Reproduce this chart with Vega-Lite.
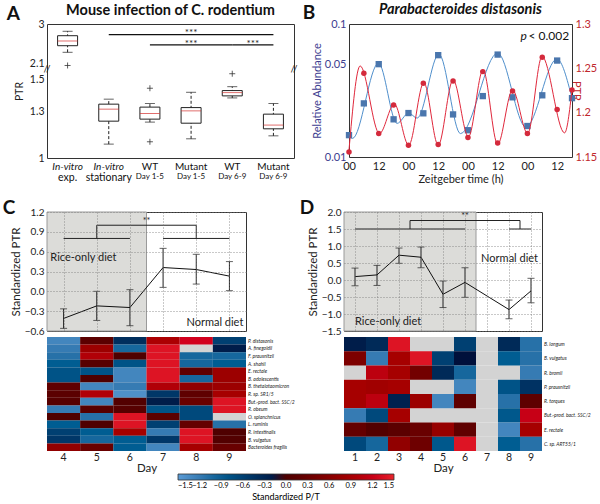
{
"$schema": "https://vega.github.io/schema/vega-lite/v6.json",
"padding": {"left": 2, "top": 1, "right": 2, "bottom": 2},
"background": "white",
"config": {
  "font": "Lato",
  "view": {"stroke": "#333333", "strokeWidth": 1},
  "axis": {"labelFont": "Lato", "titleFont": "Lato", "labelFontSize": 10, "titleFontSize": 10.5, "titleFontWeight": "normal", "labelColor": "#222222", "titleColor": "#222222", "ticks": false, "domain": false, "grid": false, "labelPadding": 3, "titlePadding": 3, "labelOverlap": false, "labelFlush": false},
  "title": {"font": "Lato", "color": "#111111"},
  "legend": {"labelFont": "Lato", "titleFont": "Lato"}
},
"datasets": {
  "boxes": [
    {"group": "In-vitro exp.", "lower": 2.352, "q1": 2.503, "median": 2.611, "q3": 2.732, "upper": 2.833},
    {"group": "In-vitro stationary", "lower": 1.089, "q1": 1.236, "median": 1.313, "q3": 1.345, "upper": 1.377},
    {"group": "WT Day 1-5", "lower": 1.23, "q1": 1.249, "median": 1.285, "q3": 1.326, "upper": 1.349},
    {"group": "Mutant Day 1-5", "lower": 1.123, "q1": 1.223, "median": 1.302, "q3": 1.323, "upper": 1.421},
    {"group": "WT Day 6-9", "lower": 1.385, "q1": 1.398, "median": 1.419, "q3": 1.432, "upper": 1.457},
    {"group": "Mutant Day 6-9", "lower": 1.142, "q1": 1.187, "median": 1.211, "q3": 1.281, "upper": 1.349}
  ],
  "outliers": [
    {"group": "In-vitro exp.", "v": 2.05},
    {"group": "WT Day 1-5", "v": 1.447},
    {"group": "WT Day 1-5", "v": 1.104},
    {"group": "WT Day 6-9", "v": 1.54}
  ],
  "sig": [
    {"from": "In-vitro stationary", "to": "Mutant Day 6-9", "y": 2.755},
    {"from": "WT Day 1-5", "to": "WT Day 6-9", "y": 2.52},
    {"from": "WT Day 6-9", "to": "Mutant Day 6-9", "y": 2.52}
  ],
  "bpts": [
    {"t": 0, "v": 0.0146}, {"t": 6, "v": 0.0253}, {"t": 12, "v": 0.0499}, {"t": 18, "v": 0.0192},
    {"t": 24, "v": 0.0214}, {"t": 30, "v": 0.0213}, {"t": 36, "v": 0.0583}, {"t": 42, "v": 0.0209},
    {"t": 48, "v": 0.0159}, {"t": 54, "v": 0.0287}, {"t": 60, "v": 0.0589}, {"t": 66, "v": 0.0281},
    {"t": 72, "v": 0.0171}, {"t": 78, "v": 0.0291}, {"t": 84, "v": 0.0531}, {"t": 90, "v": 0.0277}
  ],
  "bcurve": [
    {"t": 0, "v": 0.0146}, {"t": 1.4, "v": 0.0138}, {"t": 11.9, "v": 0.0507}, {"t": 19.4, "v": 0.0179},
    {"t": 24.1, "v": 0.0214}, {"t": 27.5, "v": 0.0196}, {"t": 36.3, "v": 0.0593}, {"t": 45, "v": 0.015},
    {"t": 60, "v": 0.0604}, {"t": 71.4, "v": 0.0168}, {"t": 83.9, "v": 0.0545}, {"t": 90, "v": 0.0277}
  ],
  "rpts": [
    {"t": 0, "v": 1.1557}, {"t": 6, "v": 1.2445}, {"t": 12, "v": 1.1765}, {"t": 18, "v": 1.2086},
    {"t": 24, "v": 1.1633}, {"t": 30, "v": 1.2332}, {"t": 36, "v": 1.164}, {"t": 42, "v": 1.2358},
    {"t": 48, "v": 1.172}, {"t": 54, "v": 1.2463}, {"t": 60, "v": 1.1659}, {"t": 66, "v": 1.2244},
    {"t": 72, "v": 1.1765}, {"t": 78, "v": 1.2626}, {"t": 84, "v": 1.2037}, {"t": 90, "v": 1.2256}
  ],
  "rcurve": [
    {"t": 0, "v": 1.158}, {"t": 4.5, "v": 1.2527}, {"t": 12.3, "v": 1.1765}, {"t": 18.3, "v": 1.2097},
    {"t": 24.1, "v": 1.1633}, {"t": 30.2, "v": 1.2338}, {"t": 36, "v": 1.1633}, {"t": 42, "v": 1.2369},
    {"t": 48.2, "v": 1.1727}, {"t": 54.1, "v": 1.2482}, {"t": 60, "v": 1.1644}, {"t": 66, "v": 1.2256},
    {"t": 72.1, "v": 1.1765}, {"t": 77.9, "v": 1.2633}, {"t": 87, "v": 1.1772}, {"t": 90, "v": 1.2256}
  ],
  "lineC": [
    {"day": 4, "ptr": -0.41, "lo": -0.56, "hi": -0.265},
    {"day": 5, "ptr": -0.22, "lo": -0.44, "hi": 0.0},
    {"day": 6, "ptr": -0.245, "lo": -0.52, "hi": 0.025},
    {"day": 7, "ptr": 0.36, "lo": 0.06, "hi": 0.65},
    {"day": 8, "ptr": 0.33, "lo": 0.11, "hi": 0.56},
    {"day": 9, "ptr": 0.23, "lo": 0.01, "hi": 0.45}
  ],
  "lineD": [
    {"day": 1, "ptr": 0.1, "lo": -0.17, "hi": 0.35},
    {"day": 2, "ptr": 0.15, "lo": -0.16, "hi": 0.43},
    {"day": 3, "ptr": 0.73, "lo": 0.49, "hi": 0.94},
    {"day": 4, "ptr": 0.67, "lo": 0.36, "hi": 0.97},
    {"day": 5, "ptr": -0.42, "lo": -0.81, "hi": -0.03},
    {"day": 6, "ptr": -0.07, "lo": -0.51, "hi": 0.36},
    {"day": 8, "ptr": -0.87, "lo": -1.14, "hi": -0.59},
    {"day": 9, "ptr": -0.32, "lo": -0.67, "hi": 0.05}
  ],
  "brC": [
    {"x": 4, "x2": 6, "y": 0.8, "y2": 0.8},
    {"x": 7, "x2": 9, "y": 0.8, "y2": 0.8},
    {"x": 5, "x2": 8, "y": 1.0, "y2": 1.0},
    {"x": 5, "x2": 5, "y": 0.8, "y2": 1.0},
    {"x": 8, "x2": 8, "y": 0.8, "y2": 1.0}
  ],
  "brD": [
    {"x": 1, "x2": 6, "y": 1.5, "y2": 1.5},
    {"x": 8, "x2": 9, "y": 1.5, "y2": 1.5},
    {"x": 3.5, "x2": 8.5, "y": 1.75, "y2": 1.75},
    {"x": 3.5, "x2": 3.5, "y": 1.5, "y2": 1.75},
    {"x": 8.5, "x2": 8.5, "y": 1.5, "y2": 1.75}
  ],
  "heatC": [
    {"species": "P. distasonis", "day": 4, "v": -1.3}, {"species": "P. distasonis", "day": 5, "v": 0.15}, {"species": "P. distasonis", "day": 6, "v": -0.4}, {"species": "P. distasonis", "day": 7, "v": 0.95}, {"species": "P. distasonis", "day": 8, "v": 1.3}, {"species": "P. distasonis", "day": 9, "v": -0.6},
    {"species": "A. finegoldii", "day": 4, "v": -1.2}, {"species": "A. finegoldii", "day": 5, "v": 0.8}, {"species": "A. finegoldii", "day": 6, "v": -1.0}, {"species": "A. finegoldii", "day": 7, "v": 1.4}, {"species": "A. finegoldii", "day": 8, "v": null}, {"species": "A. finegoldii", "day": 9, "v": -0.2},
    {"species": "F. prausnitzii", "day": 4, "v": -1.1}, {"species": "F. prausnitzii", "day": 5, "v": 1.0}, {"species": "F. prausnitzii", "day": 6, "v": 0.0}, {"species": "F. prausnitzii", "day": 7, "v": 1.4}, {"species": "F. prausnitzii", "day": 8, "v": -1.0}, {"species": "F. prausnitzii", "day": 9, "v": -1.0},
    {"species": "A. shahii", "day": 4, "v": -0.9}, {"species": "A. shahii", "day": 5, "v": 0.1}, {"species": "A. shahii", "day": 6, "v": -0.8}, {"species": "A. shahii", "day": 7, "v": 1.4}, {"species": "A. shahii", "day": 8, "v": -1.0}, {"species": "A. shahii", "day": 9, "v": -0.9},
    {"species": "E. rectale", "day": 4, "v": -0.8}, {"species": "E. rectale", "day": 5, "v": -0.8}, {"species": "E. rectale", "day": 6, "v": -1.3}, {"species": "E. rectale", "day": 7, "v": 1.4}, {"species": "E. rectale", "day": 8, "v": 0.2}, {"species": "E. rectale", "day": 9, "v": 0.8},
    {"species": "B. adolescentis", "day": 4, "v": -0.8}, {"species": "B. adolescentis", "day": 5, "v": 0.0}, {"species": "B. adolescentis", "day": 6, "v": -1.3}, {"species": "B. adolescentis", "day": 7, "v": 1.4}, {"species": "B. adolescentis", "day": 8, "v": -1.0}, {"species": "B. adolescentis", "day": 9, "v": 0.8},
    {"species": "B. thetaiotaomicron", "day": 4, "v": 0.2}, {"species": "B. thetaiotaomicron", "day": 5, "v": -1.3}, {"species": "B. thetaiotaomicron", "day": 6, "v": -1.2}, {"species": "B. thetaiotaomicron", "day": 7, "v": 1.0}, {"species": "B. thetaiotaomicron", "day": 8, "v": 0.7}, {"species": "B. thetaiotaomicron", "day": 9, "v": 0.8},
    {"species": "R. sp. SR1/5", "day": 4, "v": 0.15}, {"species": "R. sp. SR1/5", "day": 5, "v": 1.0}, {"species": "R. sp. SR1/5", "day": 6, "v": -1.4}, {"species": "R. sp. SR1/5", "day": 7, "v": -0.5}, {"species": "R. sp. SR1/5", "day": 8, "v": 0.2}, {"species": "R. sp. SR1/5", "day": 9, "v": 0.9},
    {"species": "But.-prod. bact. SSC/2", "day": 4, "v": 0.1}, {"species": "But.-prod. bact. SSC/2", "day": 5, "v": -1.3}, {"species": "But.-prod. bact. SSC/2", "day": 6, "v": 0.05}, {"species": "But.-prod. bact. SSC/2", "day": 7, "v": -0.2}, {"species": "But.-prod. bact. SSC/2", "day": 8, "v": 0.3}, {"species": "But.-prod. bact. SSC/2", "day": 9, "v": 1.4},
    {"species": "R. obeum", "day": 4, "v": -1.2}, {"species": "R. obeum", "day": 5, "v": 0.1}, {"species": "R. obeum", "day": 6, "v": 0.1}, {"species": "R. obeum", "day": 7, "v": -0.8}, {"species": "R. obeum", "day": 8, "v": -0.7}, {"species": "R. obeum", "day": 9, "v": 1.4},
    {"species": "O. splanchnicus", "day": 4, "v": 0.0}, {"species": "O. splanchnicus", "day": 5, "v": -1.1}, {"species": "O. splanchnicus", "day": 6, "v": 1.4}, {"species": "O. splanchnicus", "day": 7, "v": 0.15}, {"species": "O. splanchnicus", "day": 8, "v": -0.7}, {"species": "O. splanchnicus", "day": 9, "v": null},
    {"species": "L. ruminis", "day": 4, "v": -0.9}, {"species": "L. ruminis", "day": 5, "v": 0.0}, {"species": "L. ruminis", "day": 6, "v": 1.4}, {"species": "L. ruminis", "day": 7, "v": -0.6}, {"species": "L. ruminis", "day": 8, "v": 0.25}, {"species": "L. ruminis", "day": 9, "v": -1.1},
    {"species": "R. intestinalis", "day": 4, "v": -0.6}, {"species": "R. intestinalis", "day": 5, "v": -0.9}, {"species": "R. intestinalis", "day": 6, "v": 0.9}, {"species": "R. intestinalis", "day": 7, "v": -1.2}, {"species": "R. intestinalis", "day": 8, "v": 1.4}, {"species": "R. intestinalis", "day": 9, "v": 0.0},
    {"species": "B. vulgatus", "day": 4, "v": -0.5}, {"species": "B. vulgatus", "day": 5, "v": -1.0}, {"species": "B. vulgatus", "day": 6, "v": -0.9}, {"species": "B. vulgatus", "day": 7, "v": -0.5}, {"species": "B. vulgatus", "day": 8, "v": 1.4}, {"species": "B. vulgatus", "day": 9, "v": 0.05},
    {"species": "Bacteroides fragilis", "day": 4, "v": 0.7}, {"species": "Bacteroides fragilis", "day": 5, "v": 0.3}, {"species": "Bacteroides fragilis", "day": 6, "v": -0.9}, {"species": "Bacteroides fragilis", "day": 7, "v": -1.3}, {"species": "Bacteroides fragilis", "day": 8, "v": 0.9}, {"species": "Bacteroides fragilis", "day": 9, "v": 0.3}
  ],
  "heatD": [
    {"species": "B. longum", "day": 1, "v": -0.2}, {"species": "B. longum", "day": 2, "v": -0.35}, {"species": "B. longum", "day": 3, "v": 1.4}, {"species": "B. longum", "day": 4, "v": null}, {"species": "B. longum", "day": 5, "v": null}, {"species": "B. longum", "day": 6, "v": -0.6}, {"species": "B. longum", "day": 7, "v": null}, {"species": "B. longum", "day": 8, "v": -0.35}, {"species": "B. longum", "day": 9, "v": -1.1},
    {"species": "B. vulgatus", "day": 1, "v": 0.5}, {"species": "B. vulgatus", "day": 2, "v": -1.2}, {"species": "B. vulgatus", "day": 3, "v": 0.9}, {"species": "B. vulgatus", "day": 4, "v": 1.4}, {"species": "B. vulgatus", "day": 5, "v": -0.6}, {"species": "B. vulgatus", "day": 6, "v": -0.05}, {"species": "B. vulgatus", "day": 7, "v": null}, {"species": "B. vulgatus", "day": 8, "v": -0.9}, {"species": "B. vulgatus", "day": 9, "v": -1.1},
    {"species": "R. bromii", "day": 1, "v": null}, {"species": "R. bromii", "day": 2, "v": 1.1}, {"species": "R. bromii", "day": 3, "v": 0.9}, {"species": "R. bromii", "day": 4, "v": 0.4}, {"species": "R. bromii", "day": 5, "v": -0.35}, {"species": "R. bromii", "day": 6, "v": -1.0}, {"species": "R. bromii", "day": 7, "v": null}, {"species": "R. bromii", "day": 8, "v": null}, {"species": "R. bromii", "day": 9, "v": -1.2},
    {"species": "P. prausnitzii", "day": 1, "v": 0.9}, {"species": "P. prausnitzii", "day": 2, "v": 0.85}, {"species": "P. prausnitzii", "day": 3, "v": 0.9}, {"species": "P. prausnitzii", "day": 4, "v": null}, {"species": "P. prausnitzii", "day": 5, "v": null}, {"species": "P. prausnitzii", "day": 6, "v": -1.3}, {"species": "P. prausnitzii", "day": 7, "v": null}, {"species": "P. prausnitzii", "day": 8, "v": -0.8}, {"species": "P. prausnitzii", "day": 9, "v": -0.45},
    {"species": "R. torques", "day": 1, "v": 0.9}, {"species": "R. torques", "day": 2, "v": 1.1}, {"species": "R. torques", "day": 3, "v": -0.25}, {"species": "R. torques", "day": 4, "v": 0.8}, {"species": "R. torques", "day": 5, "v": -1.3}, {"species": "R. torques", "day": 6, "v": 0.2}, {"species": "R. torques", "day": 7, "v": null}, {"species": "R. torques", "day": 8, "v": -1.1}, {"species": "R. torques", "day": 9, "v": 0.2},
    {"species": "But.-prod. bact. SSC/2", "day": 1, "v": -1.2}, {"species": "But.-prod. bact. SSC/2", "day": 2, "v": -0.7}, {"species": "But.-prod. bact. SSC/2", "day": 3, "v": 0.9}, {"species": "But.-prod. bact. SSC/2", "day": 4, "v": null}, {"species": "But.-prod. bact. SSC/2", "day": 5, "v": null}, {"species": "But.-prod. bact. SSC/2", "day": 6, "v": null}, {"species": "But.-prod. bact. SSC/2", "day": 7, "v": null}, {"species": "But.-prod. bact. SSC/2", "day": 8, "v": -0.85}, {"species": "But.-prod. bact. SSC/2", "day": 9, "v": 1.2},
    {"species": "E. rectale", "day": 1, "v": 0.25}, {"species": "E. rectale", "day": 2, "v": 0.05}, {"species": "E. rectale", "day": 3, "v": 0.15}, {"species": "E. rectale", "day": 4, "v": 0.3}, {"species": "E. rectale", "day": 5, "v": 0.75}, {"species": "E. rectale", "day": 6, "v": 0.2}, {"species": "E. rectale", "day": 7, "v": null}, {"species": "E. rectale", "day": 8, "v": -1.3}, {"species": "E. rectale", "day": 9, "v": 0.9},
    {"species": "C. sp. ART55/1", "day": 1, "v": -0.7}, {"species": "C. sp. ART55/1", "day": 2, "v": -1.0}, {"species": "C. sp. ART55/1", "day": 3, "v": 0.7}, {"species": "C. sp. ART55/1", "day": 4, "v": 0.35}, {"species": "C. sp. ART55/1", "day": 5, "v": -0.85}, {"species": "C. sp. ART55/1", "day": 6, "v": 1.4}, {"species": "C. sp. ART55/1", "day": 7, "v": null}, {"species": "C. sp. ART55/1", "day": 8, "v": -0.9}, {"species": "C. sp. ART55/1", "day": 9, "v": -1.1}
  ]
},
"vconcat": [
  {"hconcat": [
    {"title": {"text": "A", "anchor": "start", "frame": "bounds", "fontSize": 19, "fontWeight": "bold", "offset": 0, "dx": -7, "dy": 22},
     "vconcat": [
      {"width": 247, "height": 134,
       "title": {"text": "Mouse infection of C. rodentium", "fontSize": 14.5, "fontWeight": "bold", "offset": 1},
       "layer": [
        {"layer": [
          {"data": {"name": "boxes"}, "mark": {"type": "rule", "strokeDash": [3, 2], "color": "#222222", "strokeWidth": 1},
           "encoding": {
             "x": {"field": "group", "type": "nominal", "scale": {"domain": ["In-vitro exp.", "In-vitro stationary", "WT Day 1-5", "Mutant Day 1-5", "WT Day 6-9", "Mutant Day 6-9"], "paddingInner": 0, "paddingOuter": 0},
                   "axis": {"title": null, "labelAngle": 0, "labelOverlap": false, "labelExpr": "split(datum.label, ' ')[0]", "labelFontSize": 10, "labelFontStyle": {"condition": {"test": "indexof(datum.value, 'In-vitro') == 0", "value": "italic"}, "value": "normal"}, "labelPadding": 3, "labelColor": "#111111"}},
             "y": {"field": "lower", "type": "quantitative", "scale": {"domain": [1, 1.56, 2.02, 3], "range": [134, 46.6, 42.8, 0], "nice": false, "zero": false},
                   "axis": {"values": [1, 1.3, 1.5, 2.1, 3], "tickCount": 50, "labelOverlap": false, "format": "~g", "title": "PTR", "titlePadding": 5, "labelFontSize": 10.5}},
             "y2": {"field": "upper"}}},
          {"data": {"name": "boxes"}, "mark": {"type": "tick", "orient": "horizontal", "size": 10, "thickness": 1, "color": "#222222"},
           "encoding": {
             "x": {"field": "group", "type": "nominal", "scale": {"domain": ["In-vitro exp.", "In-vitro stationary", "WT Day 1-5", "Mutant Day 1-5", "WT Day 6-9", "Mutant Day 6-9"], "paddingInner": 0, "paddingOuter": 0}},
             "y": {"field": "lower", "type": "quantitative", "scale": {"domain": [1, 1.56, 2.02, 3], "range": [134, 46.6, 42.8, 0], "nice": false, "zero": false}}}},
          {"data": {"name": "boxes"}, "mark": {"type": "tick", "orient": "horizontal", "size": 10, "thickness": 1, "color": "#222222"},
           "encoding": {
             "x": {"field": "group", "type": "nominal", "scale": {"domain": ["In-vitro exp.", "In-vitro stationary", "WT Day 1-5", "Mutant Day 1-5", "WT Day 6-9", "Mutant Day 6-9"], "paddingInner": 0, "paddingOuter": 0}},
             "y": {"field": "upper", "type": "quantitative", "scale": {"domain": [1, 1.56, 2.02, 3], "range": [134, 46.6, 42.8, 0], "nice": false, "zero": false}}}},
          {"data": {"name": "boxes"}, "mark": {"type": "bar", "size": 20, "fill": "white", "stroke": "#222222", "strokeWidth": 1},
           "encoding": {
             "x": {"field": "group", "type": "nominal", "scale": {"domain": ["In-vitro exp.", "In-vitro stationary", "WT Day 1-5", "Mutant Day 1-5", "WT Day 6-9", "Mutant Day 6-9"], "paddingInner": 0, "paddingOuter": 0}},
             "y": {"field": "q1", "type": "quantitative", "scale": {"domain": [1, 1.56, 2.02, 3], "range": [134, 46.6, 42.8, 0], "nice": false, "zero": false}},
             "y2": {"field": "q3"}}},
          {"data": {"name": "boxes"}, "mark": {"type": "tick", "orient": "horizontal", "size": 20, "thickness": 1, "color": "#d3302f"},
           "encoding": {
             "x": {"field": "group", "type": "nominal", "scale": {"domain": ["In-vitro exp.", "In-vitro stationary", "WT Day 1-5", "Mutant Day 1-5", "WT Day 6-9", "Mutant Day 6-9"], "paddingInner": 0, "paddingOuter": 0}},
             "y": {"field": "median", "type": "quantitative", "scale": {"domain": [1, 1.56, 2.02, 3], "range": [134, 46.6, 42.8, 0], "nice": false, "zero": false}}}},
          {"data": {"name": "outliers"}, "mark": {"type": "point", "shape": "M-1,0L1,0M0,-1L0,1", "size": 36, "filled": false, "stroke": "#333333", "strokeWidth": 0.8, "opacity": 1},
           "encoding": {
             "x": {"field": "group", "type": "nominal", "scale": {"domain": ["In-vitro exp.", "In-vitro stationary", "WT Day 1-5", "Mutant Day 1-5", "WT Day 6-9", "Mutant Day 6-9"], "paddingInner": 0, "paddingOuter": 0}},
             "y": {"field": "v", "type": "quantitative", "scale": {"domain": [1, 1.56, 2.02, 3], "range": [134, 46.6, 42.8, 0], "nice": false, "zero": false}}}},
          {"data": {"name": "sig"}, "mark": {"type": "rule", "color": "#111111", "strokeWidth": 1.2},
           "encoding": {
             "x": {"field": "from", "type": "nominal", "scale": {"domain": ["In-vitro exp.", "In-vitro stationary", "WT Day 1-5", "Mutant Day 1-5", "WT Day 6-9", "Mutant Day 6-9"], "paddingInner": 0, "paddingOuter": 0}},
             "x2": {"field": "to"},
             "y": {"field": "y", "type": "quantitative", "scale": {"domain": [1, 1.56, 2.02, 3], "range": [134, 46.6, 42.8, 0], "nice": false, "zero": false}}}},
          {"data": {"values": [{"at": "Mutant Day 1-5", "y": 2.725}, {"at": "Mutant Day 1-5", "y": 2.48}]},
           "mark": {"type": "text", "text": "***", "fontSize": 10, "baseline": "alphabetic", "color": "#222222"},
           "encoding": {
             "x": {"field": "at", "type": "nominal", "scale": {"domain": ["In-vitro exp.", "In-vitro stationary", "WT Day 1-5", "Mutant Day 1-5", "WT Day 6-9", "Mutant Day 6-9"], "paddingInner": 0, "paddingOuter": 0}},
             "y": {"field": "y", "type": "quantitative", "scale": {"domain": [1, 1.56, 2.02, 3], "range": [134, 46.6, 42.8, 0], "nice": false, "zero": false}}}},
          {"data": {"values": [{"at": "WT Day 6-9", "y": 2.48}]},
           "mark": {"type": "text", "text": "***", "fontSize": 10, "baseline": "alphabetic", "color": "#222222"},
           "encoding": {
             "x": {"field": "at", "type": "nominal", "bandPosition": 1, "scale": {"domain": ["In-vitro exp.", "In-vitro stationary", "WT Day 1-5", "Mutant Day 1-5", "WT Day 6-9", "Mutant Day 6-9"], "paddingInner": 0, "paddingOuter": 0}},
             "y": {"field": "y", "type": "quantitative", "scale": {"domain": [1, 1.56, 2.02, 3], "range": [134, 46.6, 42.8, 0], "nice": false, "zero": false}}}},
          {"data": {"values": [{"at": "In-vitro exp.", "y": 1.79}]},
           "mark": {"type": "text", "text": "//", "fontSize": 10, "baseline": "middle", "align": "center", "color": "#222222"},
           "encoding": {
             "x": {"field": "at", "type": "nominal", "bandPosition": 0, "scale": {"domain": ["In-vitro exp.", "In-vitro stationary", "WT Day 1-5", "Mutant Day 1-5", "WT Day 6-9", "Mutant Day 6-9"], "paddingInner": 0, "paddingOuter": 0}},
             "y": {"field": "y", "type": "quantitative", "scale": {"domain": [1, 1.56, 2.02, 3], "range": [134, 46.6, 42.8, 0], "nice": false, "zero": false}}}},
          {"data": {"values": [{"at": "Mutant Day 6-9", "y": 1.79}]},
           "mark": {"type": "text", "text": "//", "fontSize": 10, "baseline": "middle", "align": "center", "color": "#222222"},
           "encoding": {
             "x": {"field": "at", "type": "nominal", "bandPosition": 1, "scale": {"domain": ["In-vitro exp.", "In-vitro stationary", "WT Day 1-5", "Mutant Day 1-5", "WT Day 6-9", "Mutant Day 6-9"], "paddingInner": 0, "paddingOuter": 0}},
             "y": {"field": "y", "type": "quantitative", "scale": {"domain": [1, 1.56, 2.02, 3], "range": [134, 46.6, 42.8, 0], "nice": false, "zero": false}}}}
        ]},
        {"data": {"name": "boxes"}, "mark": {"type": "tick", "opacity": 0},
         "encoding": {
           "x": {"field": "group", "type": "nominal", "scale": {"domain": ["In-vitro exp.", "In-vitro stationary", "WT Day 1-5", "Mutant Day 1-5", "WT Day 6-9", "Mutant Day 6-9"], "paddingInner": 0, "paddingOuter": 0},
                 "axis": {"orient": "bottom", "title": null, "labelAngle": 0, "labelOverlap": false, "labelExpr": "join(slice(split(datum.label, ' '), 1), ' ')", "labelFontSize": {"condition": {"test": "indexof(datum.value, 'Day') >= 0", "value": 8}, "value": 10.5}, "labelPadding": 14, "labelColor": "#111111"}},
           "y": {"field": "median", "type": "quantitative", "scale": {"domain": [1, 1.56, 2.02, 3], "range": [134, 46.6, 42.8, 0], "nice": false, "zero": false}}}}
       ],
       "resolve": {"scale": {"x": "independent"}, "axis": {"x": "independent"}}
      }
     ]},
    {"title": {"text": "B", "anchor": "start", "frame": "bounds", "fontSize": 19, "fontWeight": "bold", "offset": 0, "dx": -8, "dy": 22},
     "vconcat": [
      {"width": 223, "height": 133,
       "title": {"text": "Parabacteroides distasonis", "fontSize": 14.5, "fontWeight": "bold", "fontStyle": "italic", "offset": 1},
       "layer": [
        {"layer": [
          {"data": {"name": "bcurve"}, "mark": {"type": "line", "interpolate": "monotone", "color": "#4f8fcc", "strokeWidth": 1},
           "encoding": {
             "x": {"field": "t", "type": "quantitative", "scale": {"domain": [0, 90], "nice": false}, "axis": {"values": [0, 12, 24, 36, 48, 60, 72, 84], "tickCount": 50, "labelOverlap": false, "labelFlush": false, "labelExpr": "datum.value % 24 == 0 ? '00' : '12'", "title": "Zeitgeber time (h)", "labelFontSize": 11, "titleFontSize": 11, "titlePadding": 2}},
             "y": {"field": "v", "type": "quantitative", "scale": {"type": "log", "domain": [0.01, 0.1], "nice": false}, "axis": {"orient": "left", "values": [0.01, 0.05, 0.1], "tickCount": 50, "labelOverlap": false, "format": "~g", "title": "Relative Abundance", "titleColor": "#3d3d8f", "labelColor": "#3d3d8f", "labelFontSize": 11, "titleFontSize": 11, "titlePadding": 2}}}},
          {"data": {"name": "bpts"}, "mark": {"type": "point", "shape": "square", "filled": true, "size": 40, "color": "#4a76ad", "opacity": 1},
           "encoding": {
             "x": {"field": "t", "type": "quantitative", "scale": {"domain": [0, 90], "nice": false}},
             "y": {"field": "v", "type": "quantitative", "scale": {"type": "log", "domain": [0.01, 0.1], "nice": false}}}}
        ]},
        {"layer": [
          {"data": {"name": "rcurve"}, "mark": {"type": "line", "interpolate": "monotone", "color": "#e0283c", "strokeWidth": 1},
           "encoding": {
             "x": {"field": "t", "type": "quantitative", "scale": {"domain": [0, 90], "nice": false}},
             "y": {"field": "v", "type": "quantitative", "scale": {"domain": [1.15, 1.3], "nice": false, "zero": false}, "axis": {"orient": "right", "values": [1.15, 1.2, 1.25, 1.3], "tickCount": 50, "labelOverlap": false, "format": "~g", "title": "PTR", "titleColor": "#c0272d", "labelColor": "#c0272d", "labelFontSize": 11, "titleFontSize": 11, "titlePadding": -26}}}},
          {"data": {"name": "rpts"}, "mark": {"type": "point", "shape": "circle", "filled": true, "size": 30, "color": "#d42a3c", "opacity": 1},
           "encoding": {
             "x": {"field": "t", "type": "quantitative", "scale": {"domain": [0, 90], "nice": false}},
             "y": {"field": "v", "type": "quantitative", "scale": {"domain": [1.15, 1.3], "nice": false, "zero": false}}}},
          {"data": {"values": [{"t": 71.8, "v": 1.286, "label": "p"}]}, "mark": {"type": "text", "fontStyle": "italic", "align": "right", "baseline": "middle", "fontSize": 12, "color": "#111111"},
           "encoding": {
             "x": {"field": "t", "type": "quantitative", "scale": {"domain": [0, 90], "nice": false}},
             "y": {"field": "v", "type": "quantitative", "scale": {"domain": [1.15, 1.3], "nice": false, "zero": false}},
             "text": {"field": "label"}}},
          {"data": {"values": [{"t": 72.4, "v": 1.286, "label": "< 0.002"}]}, "mark": {"type": "text", "align": "left", "baseline": "middle", "fontSize": 12, "color": "#111111"},
           "encoding": {
             "x": {"field": "t", "type": "quantitative", "scale": {"domain": [0, 90], "nice": false}},
             "y": {"field": "v", "type": "quantitative", "scale": {"domain": [1.15, 1.3], "nice": false, "zero": false}},
             "text": {"field": "label"}}}
        ]}
       ],
       "resolve": {"scale": {"y": "independent"}}
      }
     ]}
  ], "spacing": 4},
  {"hconcat": [
    {"title": {"text": "C", "anchor": "start", "frame": "bounds", "fontSize": 19, "fontWeight": "bold", "offset": 0, "dx": -7, "dy": 11},
     "vconcat": [
      {"width": 199, "height": 119,
       "layer": [
        {"data": {"values": [{"start": 3.5, "end": 6.5}]}, "mark": {"type": "rect", "color": "#dcdcd9", "stroke": "#9a9a9a", "strokeWidth": 1},
         "encoding": {
           "x": {"field": "start", "type": "quantitative", "scale": {"domain": [3.5, 9.5], "nice": false, "zero": false}, "axis": {"values": [4, 5, 6, 7, 8, 9], "tickCount": 50, "grid": true, "gridDash": [1, 2], "gridColor": "#777777", "gridWidth": 0.8, "labels": false, "title": null, "zindex": 1}},
           "x2": {"field": "end"}}},
        {"data": {"name": "brC"}, "mark": {"type": "rule", "color": "#222222", "strokeWidth": 1},
         "encoding": {
           "x": {"field": "x", "type": "quantitative", "scale": {"domain": [3.5, 9.5], "nice": false, "zero": false}},
           "x2": {"field": "x2"},
           "y": {"field": "y", "type": "quantitative", "scale": {"domain": [-0.6, 1.2], "nice": false, "zero": false}, "axis": {"values": [-0.6, -0.3, 0, 0.3, 0.6, 0.9, 1.2], "tickCount": 50, "labelOverlap": false, "format": ".1f", "grid": true, "gridDash": [1, 2], "gridColor": "#777777", "gridWidth": 0.8, "title": "Standardized PTR", "titleFontSize": 11.5, "labelFontSize": 10, "zindex": 1}},
           "y2": {"field": "y2"}}},
        {"data": {"values": [{"day": 6.5, "ptr": 1.02}]}, "mark": {"type": "text", "text": "**", "fontSize": 9, "baseline": "alphabetic", "color": "#222222"},
         "encoding": {
           "x": {"field": "day", "type": "quantitative", "scale": {"domain": [3.5, 9.5], "nice": false, "zero": false}},
           "y": {"field": "ptr", "type": "quantitative", "scale": {"domain": [-0.6, 1.2], "nice": false, "zero": false}}}},
        {"data": {"name": "lineC"}, "mark": {"type": "rule", "color": "#222222", "strokeWidth": 1},
         "encoding": {
           "x": {"field": "day", "type": "quantitative", "scale": {"domain": [3.5, 9.5], "nice": false, "zero": false}},
           "y": {"field": "lo", "type": "quantitative", "scale": {"domain": [-0.6, 1.2], "nice": false, "zero": false}},
           "y2": {"field": "hi"}}},
        {"data": {"name": "lineC"}, "mark": {"type": "tick", "orient": "horizontal", "size": 7, "thickness": 1, "color": "#222222"},
         "encoding": {
           "x": {"field": "day", "type": "quantitative", "scale": {"domain": [3.5, 9.5], "nice": false, "zero": false}},
           "y": {"field": "lo", "type": "quantitative", "scale": {"domain": [-0.6, 1.2], "nice": false, "zero": false}}}},
        {"data": {"name": "lineC"}, "mark": {"type": "tick", "orient": "horizontal", "size": 7, "thickness": 1, "color": "#222222"},
         "encoding": {
           "x": {"field": "day", "type": "quantitative", "scale": {"domain": [3.5, 9.5], "nice": false, "zero": false}},
           "y": {"field": "hi", "type": "quantitative", "scale": {"domain": [-0.6, 1.2], "nice": false, "zero": false}}}},
        {"data": {"name": "lineC"}, "mark": {"type": "line", "color": "#111111", "strokeWidth": 1},
         "encoding": {
           "x": {"field": "day", "type": "quantitative", "scale": {"domain": [3.5, 9.5], "nice": false, "zero": false}},
           "y": {"field": "ptr", "type": "quantitative", "scale": {"domain": [-0.6, 1.2], "nice": false, "zero": false}}}},
        {"data": {"values": [{"day": 3.6, "ptr": 0.5, "label": "Rice-only diet"}]}, "mark": {"type": "text", "align": "left", "baseline": "middle", "fontSize": 11, "color": "#222222"},
         "encoding": {
           "x": {"field": "day", "type": "quantitative", "scale": {"domain": [3.5, 9.5], "nice": false, "zero": false}},
           "y": {"field": "ptr", "type": "quantitative", "scale": {"domain": [-0.6, 1.2], "nice": false, "zero": false}},
           "text": {"field": "label"}}},
        {"data": {"values": [{"day": 9.42, "ptr": -0.48, "label": "Normal diet"}]}, "mark": {"type": "text", "align": "right", "baseline": "middle", "fontSize": 11, "color": "#222222"},
         "encoding": {
           "x": {"field": "day", "type": "quantitative", "scale": {"domain": [3.5, 9.5], "nice": false, "zero": false}},
           "y": {"field": "ptr", "type": "quantitative", "scale": {"domain": [-0.6, 1.2], "nice": false, "zero": false}},
           "text": {"field": "label"}}}
       ]},
      {"width": 199, "height": 114, "data": {"name": "heatC"}, "view": {"stroke": null},
       "encoding": {
         "x": {"field": "day", "type": "ordinal", "scale": {"paddingInner": 0, "paddingOuter": 0}, "axis": {"title": "Day", "labelAngle": 0, "labelFontSize": 10.5, "titleFontSize": 11.5, "titlePadding": 0, "labelPadding": 1}},
         "y": {"field": "species", "type": "nominal", "sort": ["P. distasonis", "A. finegoldii", "F. prausnitzii", "A. shahii", "E. rectale", "B. adolescentis", "B. thetaiotaomicron", "R. sp. SR1/5", "But.-prod. bact. SSC/2", "R. obeum", "O. splanchnicus", "L. ruminis", "R. intestinalis", "B. vulgatus", "Bacteroides fragilis"], "scale": {"paddingInner": 0, "paddingOuter": 0}, "axis": {"orient": "right", "title": null, "labelOverlap": false, "labelFontSize": 5, "labelFontStyle": "italic", "labelPadding": 1.5}}},
       "layer": [
        {"mark": {"type": "rect", "color": "#d3d3d3"}},
        {"transform": [{"filter": "isValid(datum.v)"}], "mark": {"type": "rect"},
         "encoding": {"color": {"field": "v", "type": "quantitative", "scale": {"domain": [-1.5, 0, 1.5], "range": ["#5b9bd5", "#000000", "#e8262c"]},
           "legend": {"orient": "none", "legendX": 131, "legendY": 450, "direction": "horizontal", "gradientLength": 216, "gradientThickness": 6, "values": [-1.5, -1.2, -0.9, -0.6, -0.3, 0, 0.3, 0.6, 0.9, 1.2, 1.5], "format": ".1f", "title": "Standardized P/T", "titleOrient": "bottom", "titleAnchor": "middle", "titleFontSize": 9, "titleFontWeight": "normal", "titlePadding": 3, "labelFontSize": 7.5, "labelAlign": "center", "labelOverlap": false, "labelOffset": 2, "gradientStrokeColor": "#333333", "gradientStrokeWidth": 0.8, "padding": 0}}}}
       ]}
     ], "spacing": 0},
    {"title": {"text": "D", "anchor": "start", "frame": "bounds", "fontSize": 19, "fontWeight": "bold", "offset": 0, "dx": -7, "dy": 11},
     "vconcat": [
      {"width": 198, "height": 119,
       "layer": [
        {"data": {"values": [{"start": 0.5, "end": 6.5}]}, "mark": {"type": "rect", "color": "#dcdcd9", "stroke": "#9a9a9a", "strokeWidth": 1},
         "encoding": {
           "x": {"field": "start", "type": "quantitative", "scale": {"domain": [0.5, 9.5], "nice": false, "zero": false}, "axis": {"values": [1, 2, 3, 4, 5, 6, 7, 8, 9], "tickCount": 50, "grid": true, "gridDash": [1, 2], "gridColor": "#777777", "gridWidth": 0.8, "labels": false, "title": null, "zindex": 1}},
           "x2": {"field": "end"}}},
        {"data": {"name": "brD"}, "mark": {"type": "rule", "color": "#222222", "strokeWidth": 1},
         "encoding": {
           "x": {"field": "x", "type": "quantitative", "scale": {"domain": [0.5, 9.5], "nice": false, "zero": false}},
           "x2": {"field": "x2"},
           "y": {"field": "y", "type": "quantitative", "scale": {"domain": [-1.5, 2.0], "nice": false, "zero": false}, "axis": {"values": [-1.5, -1, -0.5, 0, 0.5, 1, 1.5, 2], "tickCount": 50, "labelOverlap": false, "format": ".1f", "grid": true, "gridDash": [1, 2], "gridColor": "#777777", "gridWidth": 0.8, "title": "Standardized PTR", "titleFontSize": 11.5, "labelFontSize": 10, "zindex": 1}},
           "y2": {"field": "y2"}}},
        {"data": {"values": [{"day": 6.0, "ptr": 1.78}]}, "mark": {"type": "text", "text": "**", "fontSize": 9, "baseline": "alphabetic", "color": "#222222"},
         "encoding": {
           "x": {"field": "day", "type": "quantitative", "scale": {"domain": [0.5, 9.5], "nice": false, "zero": false}},
           "y": {"field": "ptr", "type": "quantitative", "scale": {"domain": [-1.5, 2.0], "nice": false, "zero": false}}}},
        {"data": {"name": "lineD"}, "mark": {"type": "rule", "color": "#222222", "strokeWidth": 1},
         "encoding": {
           "x": {"field": "day", "type": "quantitative", "scale": {"domain": [0.5, 9.5], "nice": false, "zero": false}},
           "y": {"field": "lo", "type": "quantitative", "scale": {"domain": [-1.5, 2.0], "nice": false, "zero": false}},
           "y2": {"field": "hi"}}},
        {"data": {"name": "lineD"}, "mark": {"type": "tick", "orient": "horizontal", "size": 7, "thickness": 1, "color": "#222222"},
         "encoding": {
           "x": {"field": "day", "type": "quantitative", "scale": {"domain": [0.5, 9.5], "nice": false, "zero": false}},
           "y": {"field": "lo", "type": "quantitative", "scale": {"domain": [-1.5, 2.0], "nice": false, "zero": false}}}},
        {"data": {"name": "lineD"}, "mark": {"type": "tick", "orient": "horizontal", "size": 7, "thickness": 1, "color": "#222222"},
         "encoding": {
           "x": {"field": "day", "type": "quantitative", "scale": {"domain": [0.5, 9.5], "nice": false, "zero": false}},
           "y": {"field": "hi", "type": "quantitative", "scale": {"domain": [-1.5, 2.0], "nice": false, "zero": false}}}},
        {"data": {"name": "lineD"}, "mark": {"type": "line", "color": "#111111", "strokeWidth": 1},
         "encoding": {
           "x": {"field": "day", "type": "quantitative", "scale": {"domain": [0.5, 9.5], "nice": false, "zero": false}},
           "y": {"field": "ptr", "type": "quantitative", "scale": {"domain": [-1.5, 2.0], "nice": false, "zero": false}}}},
        {"data": {"values": [{"day": 1.0, "ptr": -1.24, "label": "Rice-only diet"}]}, "mark": {"type": "text", "align": "left", "baseline": "middle", "fontSize": 11, "color": "#222222"},
         "encoding": {
           "x": {"field": "day", "type": "quantitative", "scale": {"domain": [0.5, 9.5], "nice": false, "zero": false}},
           "y": {"field": "ptr", "type": "quantitative", "scale": {"domain": [-1.5, 2.0], "nice": false, "zero": false}},
           "text": {"field": "label"}}},
        {"data": {"values": [{"day": 9.32, "ptr": 0.61, "label": "Normal diet"}]}, "mark": {"type": "text", "align": "right", "baseline": "middle", "fontSize": 11, "color": "#222222"},
         "encoding": {
           "x": {"field": "day", "type": "quantitative", "scale": {"domain": [0.5, 9.5], "nice": false, "zero": false}},
           "y": {"field": "ptr", "type": "quantitative", "scale": {"domain": [-1.5, 2.0], "nice": false, "zero": false}},
           "text": {"field": "label"}}}
       ]},
      {"width": 198, "height": 114, "data": {"name": "heatD"}, "view": {"stroke": null},
       "encoding": {
         "x": {"field": "day", "type": "ordinal", "scale": {"paddingInner": 0, "paddingOuter": 0}, "axis": {"title": "Day", "labelAngle": 0, "labelFontSize": 10.5, "titleFontSize": 11.5, "titlePadding": 0, "labelPadding": 1}},
         "y": {"field": "species", "type": "nominal", "sort": ["B. longum", "B. vulgatus", "R. bromii", "P. prausnitzii", "R. torques", "But.-prod. bact. SSC/2", "E. rectale", "C. sp. ART55/1"], "scale": {"paddingInner": 0, "paddingOuter": 0}, "axis": {"orient": "right", "title": null, "labelOverlap": false, "labelFontSize": 5, "labelFontStyle": "italic", "labelPadding": 1.5}}},
       "layer": [
        {"mark": {"type": "rect", "color": "#d3d3d3"}},
        {"transform": [{"filter": "isValid(datum.v)"}], "mark": {"type": "rect"},
         "encoding": {"color": {"field": "v", "type": "quantitative", "scale": {"domain": [-1.5, 0, 1.5], "range": ["#5b9bd5", "#000000", "#e8262c"]},
           "legend": {"orient": "none", "legendX": 131, "legendY": 450, "direction": "horizontal", "gradientLength": 216, "gradientThickness": 6, "values": [-1.5, -1.2, -0.9, -0.6, -0.3, 0, 0.3, 0.6, 0.9, 1.2, 1.5], "format": ".1f", "title": "Standardized P/T", "titleOrient": "bottom", "titleAnchor": "middle", "titleFontSize": 9, "titleFontWeight": "normal", "titlePadding": 3, "labelFontSize": 7.5, "labelAlign": "center", "labelOverlap": false, "labelOffset": 2, "gradientStrokeColor": "#333333", "gradientStrokeWidth": 0.8, "padding": 0}}}}
       ]}
     ], "spacing": 0}
  ], "spacing": 4}
],
"spacing": 13
}
